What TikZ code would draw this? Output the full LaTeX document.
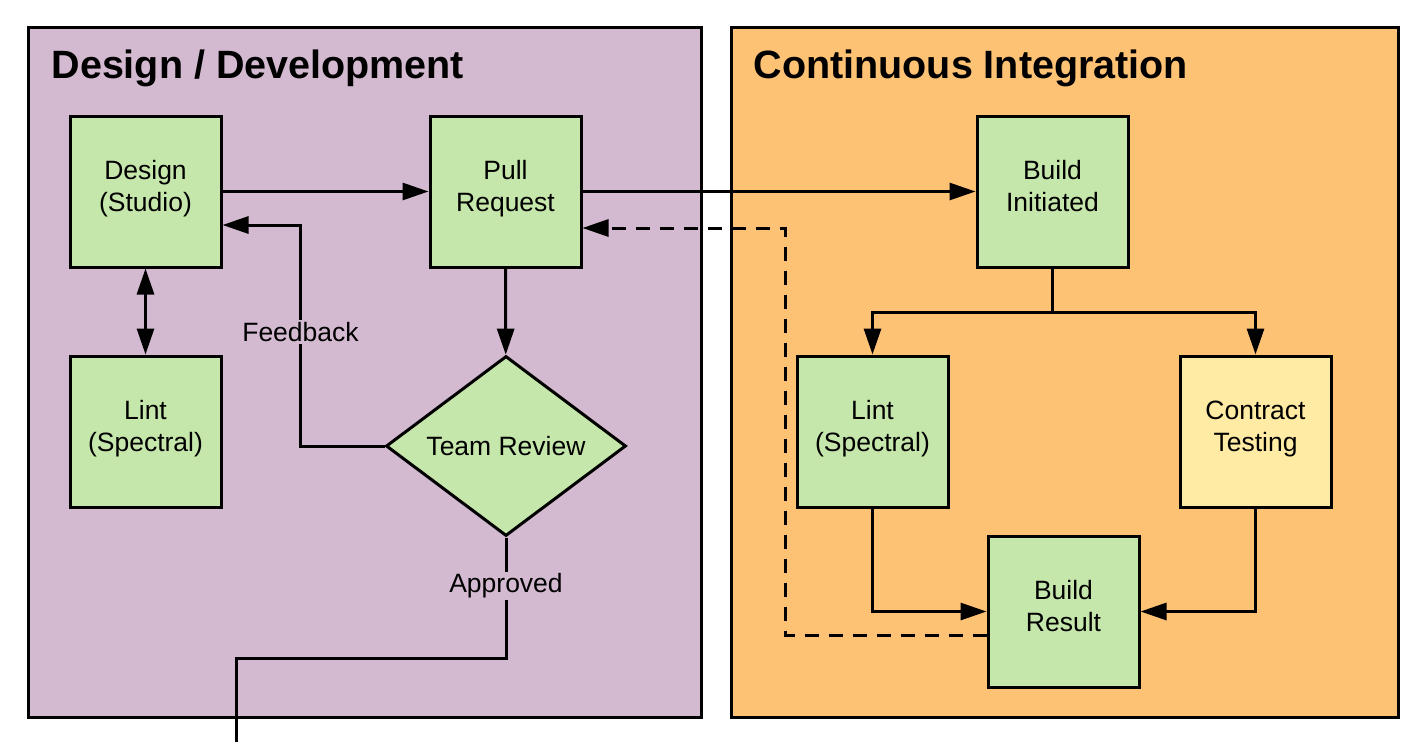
\documentclass[tikz,border=0pt]{standalone}
\usepackage{fontspec}
\setmainfont{Liberation Sans}
\usetikzlibrary{arrows.meta,shapes.geometric}
\definecolor{devpurple}{HTML}{D3BAD0}
\definecolor{ciorange}{HTML}{FEC275}
\definecolor{stepgreen}{HTML}{C6E7AB}
\definecolor{stepyellow}{HTML}{FFEBA4}
\tikzset{
  panel/.style = {draw, line width=3pt},
  paneltitle/.style = {anchor=base west, font=\bfseries\fontsize{39.5}{48}\selectfont},
  stepbox/.style = {draw, fill=stepgreen, line width=3pt, minimum width=151pt,
    minimum height=151pt, inner sep=0pt, align=center, text depth=11pt,
    font=\fontsize{26.5}{32}\selectfont},
  decision/.style = {diamond, aspect=1.33, draw, fill=stepgreen, line width=3pt,
    minimum width=240pt, minimum height=180pt, inner sep=0pt,
    font=\fontsize{26.5}{32}\selectfont},
  flowlabel/.style = {fill=devpurple, inner sep=2pt, font=\fontsize{26.5}{32}\selectfont},
  flow/.style = {draw, line width=3pt, -{Triangle[length=26pt,width=17pt]}},
}
\begin{document}
\begin{tikzpicture}[x=1pt, y=-1pt]
\useasboundingbox (0,0) rectangle (1424,742);
% panels
\draw[panel, fill=devpurple] (28,27) rectangle (701,717);
\draw[panel, fill=ciorange] (731,27) rectangle (1398,717);
\node[paneltitle] (devtitle) at (48,78) {Design / Development};
\node[paneltitle] (cititle) at (750,78) {Continuous Integration};
% steps
\begin{scope}[every node/.style = {stepbox}]
\node (design) at (145.5, 191.5) {Design\\(Studio)};
\node (devlint) at (145.5, 431.5) {Lint\\(Spectral)};
\node (pull) at (505.5, 191.5) {Pull\\Request};
\node (build) at (1052.5, 191.5) {Build\\Initiated};
\node (cilint) at (872.5, 431.5) {Lint\\(Spectral)};
\node[fill=stepyellow] (contract) at (1255.5, 431.5) {Contract\\Testing};
\node (result) at (1063.5, 611.5) {Build\\Result};
\end{scope}
\node[decision] (review) at (506, 446) {Team Review};
\coordinate (exit) at (236, 742);
% connectors
\begin{scope}[every path/.style = {flow}]
\path (design) -- (pull);
\path (pull) -- (build);
\path (pull.south) -- (review);
\path[{Triangle[length=26pt,width=17pt]}-{Triangle[length=26pt,width=17pt]}] (design.south) -- (devlint.north);
\path (review.west) -- ++(-84,0) |- ([yshift=-33.5pt]design.east)
  node[pos=0.258, flowlabel] {Feedback};
\path[-] (review.south) -- node[pos=0.4, flowlabel] {Approved} ++(0,121) -| (exit);
\path (build.south) -- ++(0,44) -| (cilint.north);
\path (build.south) -- ++(0,44) -| (contract.north);
\path (cilint.south) |- (result.west);
\path (contract.south) |- (result.east);
\path[dashed, dash pattern=on 14pt off 10pt] ([yshift=-23.5pt]result.west) -| (785,228)
  -- ([yshift=-36.5pt]pull.east);
\end{scope}
\end{tikzpicture}
\end{document}
